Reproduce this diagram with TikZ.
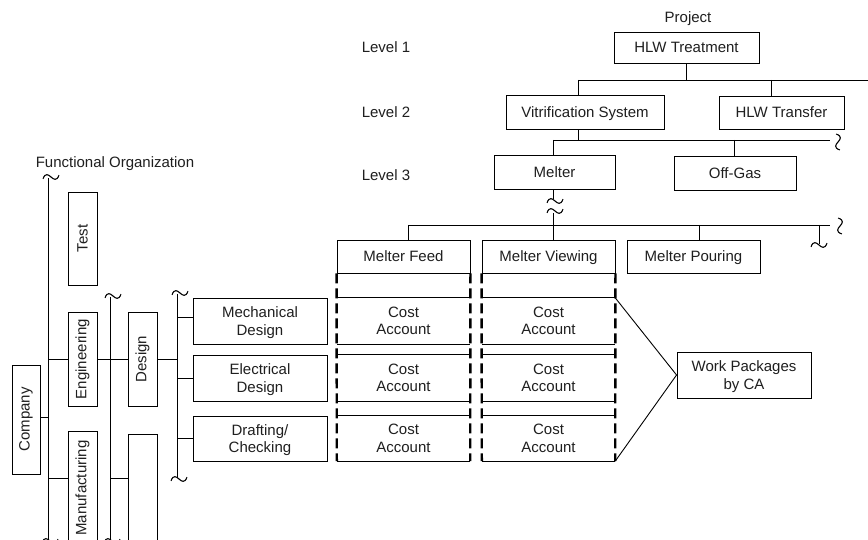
\documentclass[tikz,border=0pt]{standalone}
\usepackage{fontspec}
\usepackage{graphicx}
\setmainfont{Liberation Sans}
\begin{document}
\begin{tikzpicture}[x=1pt,y=-1pt,
  every node/.style={font=\fontsize{15}{17.5}\selectfont, text=black!88, inner sep=0pt, align=center, text depth=0pt},
  bx/.style={draw, line width=0.9pt},
  ln/.style={line width=0.9pt},
  dl/.style={line width=2.4pt, dash pattern=on 10pt off 5pt},
  brk/.pic={\draw[line width=1.1pt] (-8,1.8) .. controls (-3,-11) and (3,11) .. (8,-1.8);}
]
\fill[white] (0,0) rectangle (868,540);
\useasboundingbox (0,0) rectangle (868,540);

% ---------------- project side ----------------
\node (proj) at (688,17) {Project};
\node (l1) at (386,47) {Level 1};
\node (l2) at (386,112) {Level 2};
\node (l3) at (386,175) {Level 3};

\node[bx, minimum width=145pt, minimum height=31pt] (hlw) at (686.5,47.5) {HLW Treatment};
\node[bx, minimum width=158pt, minimum height=34pt] (vit) at (585,112) {Vitrification System};
\node[bx, minimum width=125pt, minimum height=33pt] (trans) at (781.5,112.5) {HLW Transfer};
\node[bx, minimum width=121pt, minimum height=34pt] (melter) at (554.5,172) {Melter};
\node[bx, minimum width=122pt, minimum height=34pt] (offgas) at (735,173) {Off-Gas};
\node[bx, minimum width=133pt, minimum height=33pt] (mfeed) at (403.5,256.5) {Melter Feed};
\node[bx, minimum width=133pt, minimum height=33pt] (mview) at (548.5,256.5) {Melter Viewing};
\node[bx, minimum width=133pt, minimum height=33pt] (mpour) at (693.5,256.5) {Melter Pouring};

% cost accounts
\node[minimum width=133pt, minimum height=46pt] (ca1f) at (403.5,321) {Cost\\Account};
\node[minimum width=133pt, minimum height=46pt] (ca2f) at (403.5,378) {Cost\\Account};
\node[minimum width=133pt, minimum height=45pt] (ca3f) at (403.5,438.5) {Cost\\Account};
\node[minimum width=133pt, minimum height=46pt] (ca1v) at (548.5,321) {Cost\\Account};
\node[minimum width=133pt, minimum height=46pt] (ca2v) at (548.5,378) {Cost\\Account};
\node[minimum width=133pt, minimum height=45pt] (ca3v) at (548.5,438.5) {Cost\\Account};
\foreach \n in {ca1f,ca2f,ca3f,ca1v,ca2v,ca3v}{
  \draw[ln] (\n.north west) -- (\n.north east) (\n.south west) -- (\n.south east);
}
\draw[dl] (mfeed.south west) -- (ca3f.south west);
\draw[dl] (mfeed.south east) -- (ca3f.south east);
\draw[dl] (mview.south west) -- (ca3v.south west);
\draw[dl] (mview.south east) -- (ca3v.south east);

\node[bx, minimum width=134pt, minimum height=46pt] (wp) at (744,375) {Work Packages\\by CA};
\draw[ln] (ca1v.north east) -- (wp.west) -- (ca3v.south east);

% connectors level 1-2
\coordinate (b1a) at (578,80);
\coordinate (b1b) at (868,80);
\coordinate (t1) at (771,80);
\draw[ln] (b1a) -- (b1b);
\draw[ln] (hlw.south) -- (hlw.south |- b1a);
\draw[ln] (b1a) -- (b1a |- vit.north);
\draw[ln] (t1) -- (t1 |- trans.north);
% level 2-3
\coordinate (b2a) at (553,140);
\coordinate (b2b) at (830,140);
\coordinate (o1) at (734,140);
\draw[ln] (b2a) -- (b2b);
\draw[ln] (b1a |- vit.south) -- (b1a |- b2a);
\draw[ln] (b2a) -- (b2a |- melter.north);
\draw[ln] (o1) -- (o1 |- offgas.north);
\pic[rotate=90] at (838,142) {brk};
% level 3-4
\coordinate (m1) at (553,199);
\coordinate (m2) at (553,213);
\draw[ln] (b2a |- melter.south) -- (m1);
\pic at (555,201) {brk};
\pic at (555,211) {brk};
\draw[ln] (m2) -- (m2 |- mview.north);
\coordinate (b3a) at (408,225);
\coordinate (b3b) at (830,225);
\coordinate (p1) at (699,225);
\coordinate (e1) at (819,225);
\coordinate (e2) at (819,244);
\draw[ln] (b3a) -- (b3b);
\draw[ln] (b3a) -- (b3a |- mfeed.north);
\draw[ln] (p1) -- (p1 |- mpour.north);
\draw[ln] (e1) -- (e2);
\pic at (819,245) {brk};
\pic[rotate=90] at (840,226) {brk};

% ---------------- functional organization ----------------
\node (fo) at (115,162) {Functional Organization};
\node[bx, minimum width=29pt, minimum height=93pt] (test) at (82.5,238.5) {\rotatebox{90}{Test}};
\node[bx, minimum width=29pt, minimum height=94pt] (eng) at (82.5,359) {\rotatebox{90}{Engineering}};
\node[bx, minimum width=29pt, minimum height=114pt] (manu) at (82.5,488) {\rotatebox{90}{Manufacturing}};
\node[bx, minimum width=28pt, minimum height=109pt] (company) at (26,419.5) {\rotatebox{90}{Company}};
\node[bx, minimum width=29pt, minimum height=94pt] (design) at (142.5,359) {\rotatebox{90}{Design}};
\node[bx, minimum width=29pt, minimum height=112pt] (blank) at (142.5,490) {};
\node[bx, minimum width=134pt, minimum height=46pt] (mech) at (260,321) {Mechanical\\Design};
\node[bx, minimum width=134pt, minimum height=46pt] (elec) at (260,378) {Electrical\\Design};
\node[bx, minimum width=134pt, minimum height=45pt] (draft) at (260,438.5) {Drafting/\\Checking};

\coordinate (v1t) at (48,178);
\coordinate (v1b) at (48,541);
\coordinate (v2t) at (110,297);
\coordinate (v2b) at (110,541);
\coordinate (v3t) at (177,294);
\coordinate (v3b) at (177,478);
\coordinate (ym) at (0,478);
\coordinate (yc) at (0,417);

\draw[ln] (v1t) -- (v1b);
\pic at (51,177) {brk};
\pic at (50,541) {brk};
\draw[ln] (v2t) -- (v2b);
\pic at (113,296) {brk};
\pic at (112,541) {brk};
\draw[ln] (v3t) -- (v3b);
\pic at (180,293) {brk};
\pic at (179,479) {brk};

\draw[ln] (company.east |- yc) -- (v1t |- yc);
\draw[ln] (v1t |- eng.west) -- (eng.west);
\draw[ln] (v1t |- ym) -- (manu.west |- ym);
\draw[ln] (eng.east) -- (design.west);
\draw[ln] (v2t |- ym) -- (blank.west |- ym);
\draw[ln] (design.east) -- (design.east -| v3t);
\draw[ln] ([yshift=4pt]mech.west -| v3t) -- ([yshift=4pt]mech.west);
\draw[ln] (elec.west -| v3t) -- (elec.west);
\draw[ln] (draft.west -| v3t) -- (draft.west);
\end{tikzpicture}
\end{document}
